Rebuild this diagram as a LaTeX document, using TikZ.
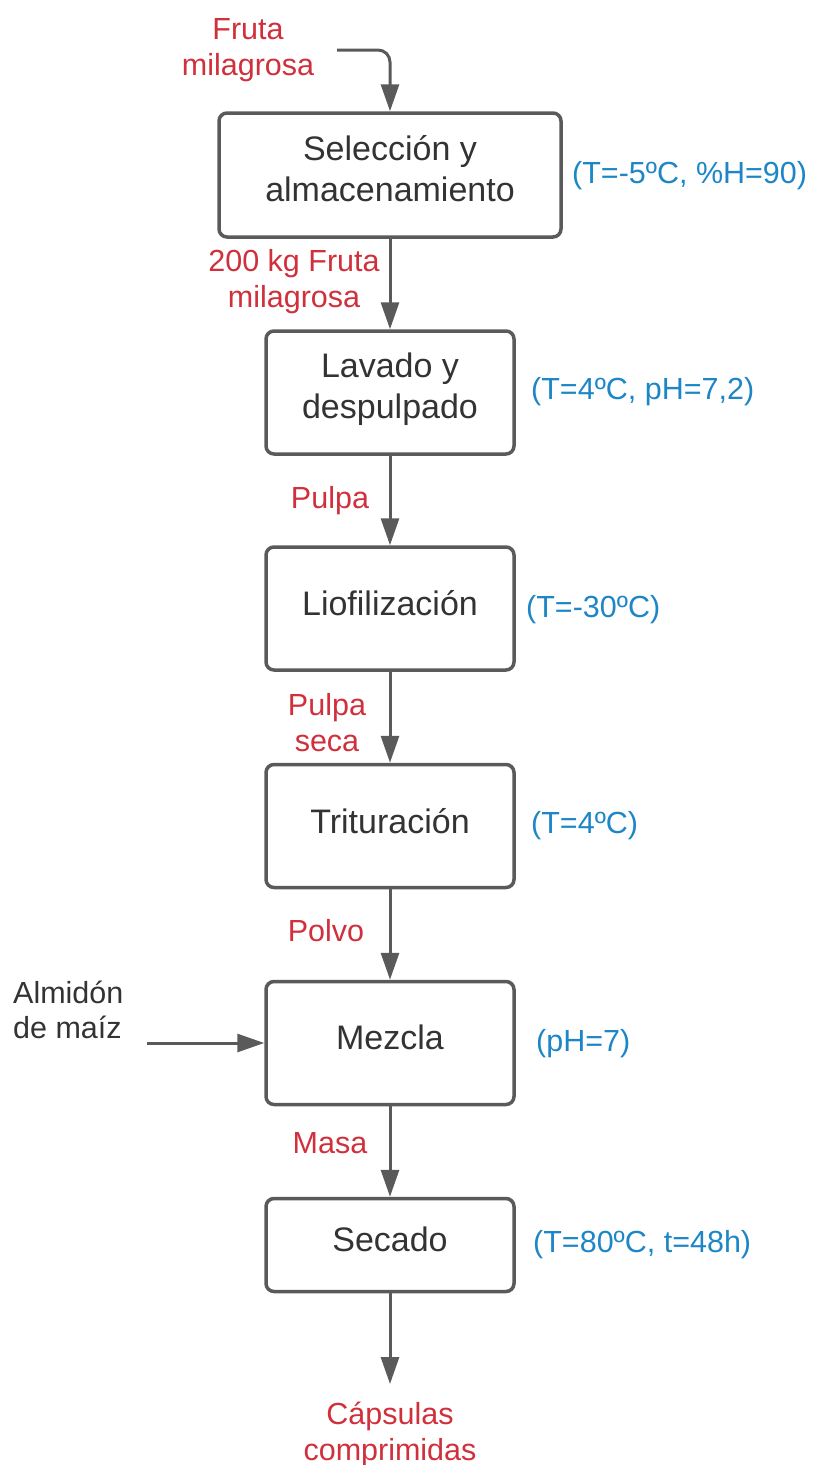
\documentclass[tikz,border=0pt]{standalone}
\usepackage{fontspec}
\setmainfont{Liberation Sans}
\usetikzlibrary{arrows.meta}
\definecolor{edgegray}{HTML}{5A5A5A}
\definecolor{textdark}{HTML}{333333}
\definecolor{flowred}{HTML}{D0303C}
\definecolor{condblue}{HTML}{1D86C6}
\begin{document}
\begin{tikzpicture}[x=1pt,y=-1pt,
  stage/.style={draw=edgegray, line width=3.5pt, rounded corners=8pt, fill=white,
    minimum width=248pt, minimum height=123pt, inner sep=0pt},
  stagetext/.style={text=textdark, font=\fontsize{34}{41}\selectfont, align=center,
    text height=0.8em, text depth=0.2em, inner sep=0pt},
  stream/.style={text=flowred, font=\fontsize{30.5}{36}\selectfont, align=center,
    text height=0.8em, text depth=0.2em, inner sep=0pt},
  cond/.style={text=condblue, font=\fontsize{30.5}{36}\selectfont, anchor=west,
    text height=0.8em, text depth=0.2em, inner sep=0pt},
  feed/.style={text=textdark, font=\fontsize{30.5}{35}\selectfont, align=left,
    text height=0.8em, text depth=0.2em, inner sep=0pt, anchor=west},
  flow/.style={draw=edgegray, line width=3pt, -{Triangle[length=27pt,width=18pt]}}]
\useasboundingbox (0,0) rectangle (813,1465);

% process stages
\node[stage, minimum width=342pt, minimum height=124pt] (b1) at (390,175) {};
\node[stage] (b2) at (390,392.5) {};
\node[stage] (b3) at (390,608.5) {};
\node[stage] (b4) at (390,826) {};
\node[stage] (b5) at (390,1043) {};
\node[stage, minimum height=93pt] (b6) at (390,1245) {};

% stage names (node placed on the last line)
\node[stagetext] (t1) at (390,198) {Selección y\\almacenamiento};
\node[stagetext] (t2) at (390,415) {Lavado y\\despulpado};
\node[stagetext] (t3) at (390,612) {Liofilización};
\node[stagetext] (t4) at (390,830) {Trituración};
\node[stagetext] (t5) at (390,1046) {Mezcla};
\node[stagetext] (t6) at (390,1248) {Secado};

% operating conditions
\node[cond] (c1) at (572,180) {(T=-5ºC, \%H=90)};
\node[cond] (c2) at (531,396) {(T=4ºC, pH=7,2)};
\node[cond] (c3) at (526,614) {(T=-30ºC)};
\node[cond] (c4) at (531,830) {(T=4ºC)};
\node[cond] (c5) at (536,1048) {(pH=7)};
\node[cond] (c6) at (533,1249) {(T=80ºC, t=48h)};

% streams
\node[stream] (s0) at (248,72) {Fruta\\milagrosa};
\node[stream] (s1) at (294,304) {200 kg Fruta\\milagrosa};
\node[stream] (s2) at (330,505) {Pulpa};
\node[stream] (s3) at (327,748) {Pulpa\\seca};
\node[stream] (s4) at (326,938) {Polvo};
\node[stream] (s5) at (330,1150) {Masa};
\node[stream] (s6) at (390,1457) {Cápsulas\\comprimidas};
\node[feed] (f1) at (13,1035) {Almidón\\de maíz};

% connectors
\coordinate (in0) at (337,50);
\coordinate (inf) at (147,1043);
\coordinate (out6) at (390,1384);
\draw[flow, rounded corners=12pt] (in0) -| (b1.north);
\draw[flow] (b1.south) -- (b2.north);
\draw[flow] (b2.south) -- (b3.north);
\draw[flow] (b3.south) -- (b4.north);
\draw[flow] (b4.south) -- (b5.north);
\draw[flow] (b5.south) -- (b6.north);
\draw[flow] (b6.south) -- (out6);
\draw[flow] (inf) -- (b5.west);
\end{tikzpicture}
\end{document}
